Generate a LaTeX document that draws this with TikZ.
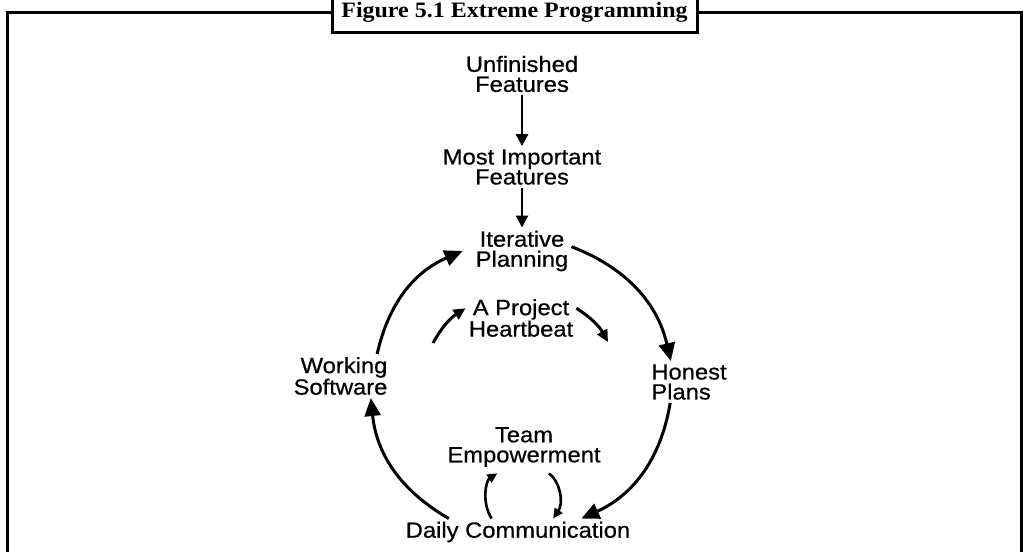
\documentclass[tikz,border=0pt]{standalone}
\usepackage{fontspec}
\setmainfont{Liberation Sans}
\newfontfamily\diagfont[FakeStretch=1.08,FakeBold=0.6]{Liberation Sans}
\newfontfamily\titlefont[FakeStretch=1.09]{Liberation Serif}
\usepackage{tikz}
\usetikzlibrary{arrows.meta}

\begin{document}
\begin{tikzpicture}[x=1pt, y=-1pt,
  every node/.style={font=\diagfont\fontsize{22}{20}\selectfont, align=center, inner sep=3pt},
  frame/.style={line width=3pt},
  straight/.style={line width=2.6pt, -{Triangle[length=12pt,width=12pt]}},
  big/.style={line width=3pt, -{Triangle[length=18pt,width=16pt]}},
  mid/.style={line width=3pt, -{Triangle[length=12pt,width=11pt]}},
  small/.style={line width=2.6pt, -{Triangle[length=10pt,width=9pt]}}]
 \useasboundingbox (0,0) rectangle (1024,551);
 % title box and frame
 \node[draw, line width=3pt, minimum width=365pt, minimum height=41pt, inner sep=0pt,
   font=\titlefont\bfseries\fontsize{22}{24}\selectfont] (title) at (514.5,12.5) {Figure 5.1 Extreme Programming};
 \draw[frame] (7.5,560) |- (title.west);
 \draw[frame] (title.east) -| (1021.5,560);
 % feature list
 \node (unf) at (522,74) {Unfinished\\Features};
 \node (most) at (522,167) {Most Important\\Features};
 \node (iter) at (522,251) {Iterative\\Planning};
 % the cycle
 \node (beat) at (521,318) {A Project\\Heartbeat};
 \node[align=left] (honest) at (689,382) {Honest\\Plans};
 \node[align=right] (work) at (340.5,376) {Working\\Software};
 \node (team) at (524,447) {Team\\Empowerment};
 \node (daily) at (518,532) {Daily Communication};
 \coordinate (beatL) at (433,343);
 \coordinate (beatR) at (608,342);

 \path[straight]
  (unf) edge (most)
  (most) edge (iter);
 \path[big]
  (iter.5) edge[bend left=28] (honest.131)
  (honest.228) edge[bend left=28] (daily.12)
  (daily.169) edge[bend left=27] (work.-36)
  (work.31) edge[bend left=27] ([xshift=-10pt]iter.west);
 \path[mid]
  (beatL) edge[bend left=14] (beat.170)
  (beat.10) edge[bend left=14] (beatR);
 \path[small]
  (daily.153) edge[bend left=45, shorten >=6pt] (team.227)
  (team.-49) edge[bend left=45, shorten <=6pt] (daily.21);
\end{tikzpicture}
\end{document}
